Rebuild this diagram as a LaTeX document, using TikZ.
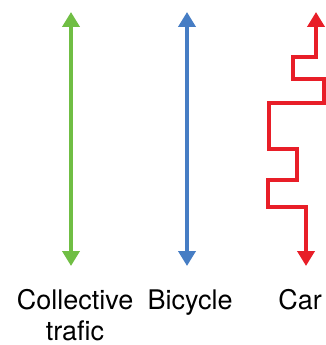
\documentclass[tikz,border=0pt]{standalone}
\usepackage{fontspec}
\setmainfont{TeX Gyre Heros}
\usetikzlibrary{arrows.meta,positioning}
\definecolor{transgreen}{RGB}{112,190,68}
\definecolor{bikeblue}{RGB}{70,125,196}
\definecolor{carred}{RGB}{232,30,40}

\begin{document}
\begin{tikzpicture}[x=1pt,y=-1pt,
        % define styles
        mode/.style={
            line width=4.5pt,
            {Triangle[width=17pt,length=15pt]}-{Triangle[width=17pt,length=15pt]}
        },
        lbl/.style={
            font=\fontsize{27}{31}\selectfont,
            align=center,
            anchor=base,
            inner sep=0pt
        }
    ]
        \useasboundingbox (0,0) rectangle (325,345);

        % end points of the arrows
        \coordinate (gtop) at (71,12);
        \coordinate (gbot) at (71,266);
        \coordinate (btop) at (187,12);
        \coordinate (bbot) at (187,266);
        \coordinate (ctop) at (316,12);
        \coordinate (cbot) at (306,266);

        \draw[mode,transgreen] (gtop) -- (gbot);
        \draw[mode,bikeblue] (btop) -- (bbot);
        % zigzag for the car
        \draw[mode,carred,line join=miter] (ctop) -- (316,57) -- (293,57) -- (293,79)
            -- (324,79) -- (324,103) -- (269,103) -- (269,149) -- (297,149)
            -- (297,180) -- (268,180) -- (268,207) -- (306,207) -- (cbot);

        % labels (base of a two-line node is its last line)
        \node[lbl] at (75,340) (coll) {Collective\\trafic};
        \node[lbl] at (190,309) (bike) {Bicycle};
        \node[lbl] at (300,309) (car) {Car};
\end{tikzpicture}
\end{document}
